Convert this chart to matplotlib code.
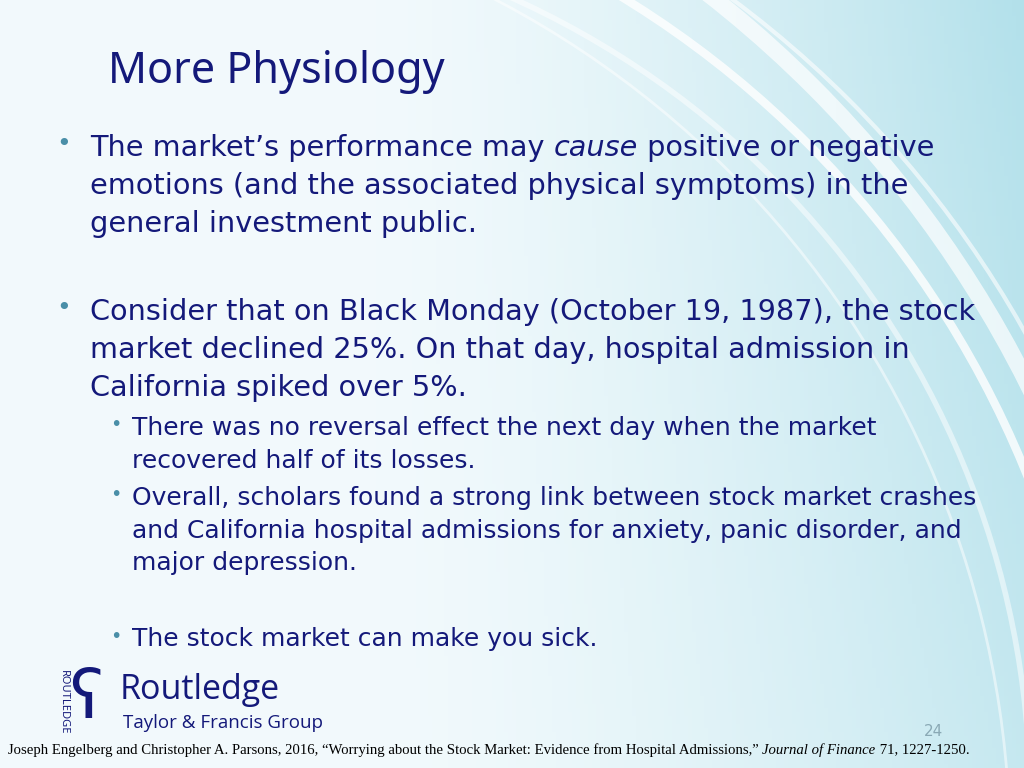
import numpy as np
import matplotlib.pyplot as plt
from matplotlib.patches import Arc

title = "More Physiology"
bullets = [
    (0, 148, ["The market\u2019s performance may ", ("cause", "italic"),
              " positive or negative"]),
    (0, 186, ["emotions (and the associated physical symptoms) in the"]),
    (0, 224, ["general investment public."]),
    (0, 312, ["Consider that on Black Monday (October 19, 1987), the stock"]),
    (0, 350, ["market declined 25%. On that day, hospital admission in"]),
    (0, 388, ["California spiked over 5%."]),
]
bullet_rows = [148, 312]
subs = [
    (428, "There was no reversal effect the next day when the market"),
    (461, "recovered half of its losses."),
    (498, "Overall, scholars found a strong link between stock market crashes"),
    (531, "and California hospital admissions for anxiety, panic disorder, and"),
    (563, "major depression."),
    (639, "The stock market can make you sick."),
]
sub_rows = [428, 498, 639]
page = "24"
footer = ["Joseph Engelberg and Christopher A. Parsons, 2016, \u201cWorrying about the Stock Market: Evidence from Hospital Admissions,\u201d ",
          ("Journal of Finance", "italic"), " 71, 1227-1250."]

W, H = 1024, 768
navy = "#14197a"
fig = plt.figure(figsize=(W / 100, H / 100), dpi=100)
ax = fig.add_axes([0, 0, 1, 1])
ax.set_xlim(0, W)
ax.set_ylim(H, 0)
ax.axis("off")

# background gradient
xx = np.linspace(0, 1, 256)
yy = np.linspace(0, 1, 192)
X, Y = np.meshgrid(xx, yy)
t = np.clip((X - 0.35) / 0.65, 0, 1) ** 1.5 * (1 - 0.3 * Y)
c0 = np.array([0.95, 0.98, 0.99])
c1 = np.array([0.70, 0.88, 0.92])
img = c0 + (c1 - c0) * t[..., None]
ax.imshow(img, extent=[0, W, H, 0], aspect="auto", zorder=0)
# y axis is inverted, so the upper-right quarter is theta 270..360
for cx, cy, r, a, lw in [(100, 850, 1000, 0.8, 6), (100, 850, 1060, 0.6, 3),
                         (0, 900, 1150, 0.7, 12), (150, 800, 880, 0.5, 4),
                         (50, 850, 960, 0.5, 2)]:
    ax.add_patch(Arc((cx, cy), 2 * r, 2 * r, theta1=270, theta2=360, color="white",
                     lw=lw, alpha=a, zorder=1))


def runs(x, y, parts, size, color, family):
    for p in parts:
        s, style = (p, "normal") if isinstance(p, str) else p
        t = ax.text(x, y, s, fontsize=size, color=color, family=family,
                    style=style, va="center")
        fig.canvas.draw()
        bb = t.get_window_extent()
        x += bb.width


ax.text(108, 72, title, fontsize=31, color=navy, family="Noto Sans", va="center")
for _, y, parts in bullets:
    runs(90, y, parts, 20.7, navy, "DejaVu Sans")
for y in bullet_rows:
    ax.text(56, y - 4, "\u2022", fontsize=18, color="#4a8fa8", va="center")
for y, s in subs:
    ax.text(132, y, s, fontsize=18, color=navy, family="DejaVu Sans", va="center")
for y in sub_rows:
    ax.text(110, y - 3, "\u2022", fontsize=14, color="#4a8fa8", va="center")

# logo
ax.text(63, 702, "ROUTLEDGE", rotation=-90, fontsize=8, weight="bold", color=navy,
        family="Noto Sans", ha="center", va="center")
ax.text(86, 700, "\u0295", fontsize=48, color=navy, family="DejaVu Sans", ha="center", va="center")
ax.text(120, 690, "Routledge", fontsize=24.5, color=navy, family="Open Sans", va="center")
ax.text(123, 723, "Taylor & Francis Group", fontsize=13.5, color=navy, family="Open Sans", va="center")
ax.text(943, 732, page, fontsize=11, color="#8aa9b5", ha="right", va="center")
runs(8, 750, footer, 10.6, "black", "Liberation Serif")

fig.savefig("out.png", dpi=100)
